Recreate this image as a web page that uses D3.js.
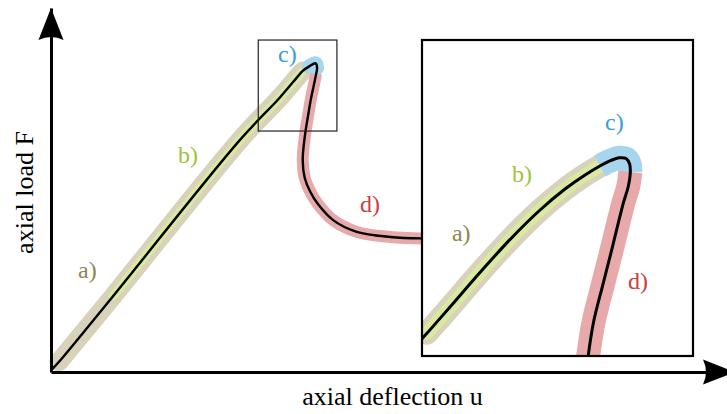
<!DOCTYPE html>
<html><head><meta charset="utf-8">
<script src="https://cdn.jsdelivr.net/npm/d3@7"></script>
<style>html,body{margin:0;padding:0;background:#fff;} svg{display:block;}</style>
</head><body>
<svg id="chart" width="727" height="414"></svg>
<script>
// Load–deflection path (u: axial deflection, F: axial load), full view
const mainU = [0.015, 0.117, 0.91, 2.76, 3.35, 3.60, 3.68, 3.77, 3.87, 3.89, 3.87, 3.84, 3.80, 3.76, 3.71, 3.68, 3.71, 3.79, 3.90, 4.12, 4.47, 4.96, 5.42];
const mainF = [0.07, 0.28, 2.09, 6.37, 7.55, 8.10, 8.27, 8.39, 8.48, 8.35, 8.13, 7.86, 7.50, 7.06, 6.46, 5.82, 5.33, 4.95, 4.62, 4.18, 3.85, 3.71, 3.67];

// Detailed path around the limit point, shown in the magnified panel
const zoomU = [3.013, 3.051, 3.149, 3.276, 3.412, 3.531, 3.637, 3.722, 3.785, 3.832, 3.866, 3.896, 3.911, 3.914, 3.905, 3.884, 3.835, 3.799, 3.757, 3.732];
const zoomF = [6.723, 6.800, 7.008, 7.281, 7.558, 7.775, 7.941, 8.052, 8.123, 8.167, 8.188, 8.182, 8.139, 8.076, 7.959, 7.828, 7.459, 7.195, 6.879, 6.573];

// Window of the (u, F) plane that the panel magnifies
const zoomWindowU = [3.03, 4.18];
const zoomWindowF = [6.62, 9.12];

// Phases of the response and the point ranges they cover on each path
const phases = ["a", "b", "c", "d"];
const phaseLabels = ["a)", "b)", "c)", "d)"];
const mainPhaseSpan = { a: [1, 6], b: [2, 6], c: [7, 9], d: [10, 22] };
const zoomPhaseSpan = { a: [1, 8], b: [1, 8], c: [8, 13], d: [13, 19] };

// Label anchors in (u, F)
const mainLabelU = [0.395, 1.857, 3.319, 4.518];
const mainLabelF = [2.57, 5.755, 8.53, 4.396];
const zoomLabelU = [3.157, 3.412, 3.807, 3.904];
const zoomLabelF = [7.526, 8.000, 8.408, 7.154];

const axisTitles = { x: "axial deflection u", y: "axial load F" };

// ---- styling ----
const bandColor = { a: "#d8d2bb", b: "#d9e9a2", c: "#a7d5ee", d: "#e7a9a9" };
const labelColor = { a: "#8b8652", b: "#9cc53a", c: "#3a9ed9", d: "#cc3d3d" };
const mainBandWidth = { a: 19, b: 9, c: 14, d: 12 };
const zoomBandWidth = { a: 23, b: 13, c: 24, d: 24 };
const serif = "'Liberation Serif', 'DejaVu Serif', serif";

const svg = d3.select("#chart");

// Main axes
const x = d3.scaleLinear().domain([0, 10]).range([51, 735]);
const y = d3.scaleLinear().domain([0, 10]).range([372, 8]);

// Magnified panel
const panel = { left: 422, right: 693, top: 40, bottom: 356 };
const zx = d3.scaleLinear().domain(zoomWindowU).range([panel.left, panel.right]);
const zy = d3.scaleLinear().domain(zoomWindowF).range([panel.bottom, panel.top]);

const mainPts = mainU.map((u, i) => [u, mainF[i]]);
const zoomPts = zoomU.map((u, i) => [u, zoomF[i]]);

function lineFor(sx, sy) {
  return d3.line().x(d => sx(d[0])).y(d => sy(d[1])).curve(d3.curveCatmullRom.alpha(0.5));
}
const mainLine = lineFor(x, y);
const zoomLine = lineFor(zx, zy);

// ---- main view ----
const gMain = svg.append("g");
["a", "b", "d", "c"].forEach(p => {
  const [s, e] = mainPhaseSpan[p];
  gMain.append("path")
    .attr("d", mainLine(mainPts.slice(s, e + 1)))
    .attr("fill", "none")
    .attr("stroke", bandColor[p])
    .attr("stroke-width", mainBandWidth[p])
    .attr("stroke-linecap", "round")
    .attr("stroke-linejoin", "round");
});
gMain.append("path")
  .attr("d", mainLine(mainPts))
  .attr("fill", "none")
  .attr("stroke", "#000")
  .attr("stroke-width", 2.4)
  .attr("stroke-linejoin", "round");

// Axes without ticks, capped by arrowheads
const xAxis = d3.axisBottom(x).tickValues([]).tickSizeOuter(0);
const yAxis = d3.axisLeft(y).tickValues([]).tickSizeOuter(0);
svg.append("g").attr("transform", `translate(0,${y(0)})`).call(xAxis)
  .select(".domain").attr("stroke", "#000").attr("stroke-width", 3);
svg.append("g").attr("transform", `translate(${x(0)},0)`).call(yAxis)
  .select(".domain").attr("stroke", "#000").attr("stroke-width", 3);

const arrowShape = "M0,0 L-32,-12.5 Q-26,0 -32,12.5 Z";
svg.append("path").attr("d", arrowShape).attr("fill", "#000")
  .attr("transform", `translate(${x(10)},${y(0)})`);
svg.append("path").attr("d", arrowShape).attr("fill", "#000")
  .attr("transform", `translate(${x(0)},${y(10)}) rotate(-90)`);

// Axis titles
svg.append("text")
  .attr("x", (x(0) + x(10)) / 2 - 0.5)
  .attr("y", 405)
  .attr("text-anchor", "middle")
  .attr("font-family", serif)
  .attr("font-size", 26)
  .text(axisTitles.x);
svg.append("text")
  .attr("transform", `translate(33,${192.5}) rotate(-90)`)
  .attr("text-anchor", "middle")
  .attr("font-family", serif)
  .attr("font-size", 26)
  .text(axisTitles.y);

// Phase labels, main view
phases.forEach((p, i) => {
  svg.append("text")
    .attr("x", x(mainLabelU[i]))
    .attr("y", y(mainLabelF[i]))
    .attr("font-family", serif)
    .attr("font-size", 24)
    .attr("fill", labelColor[p])
    .text(phaseLabels[i]);
});

// Frame of the magnified window
svg.append("rect")
  .attr("x", x(zoomWindowU[0]))
  .attr("y", y(zoomWindowF[1]))
  .attr("width", x(zoomWindowU[1]) - x(zoomWindowU[0]))
  .attr("height", y(zoomWindowF[0]) - y(zoomWindowF[1]))
  .attr("fill", "none")
  .attr("stroke", "#222")
  .attr("stroke-width", 1.2);

// ---- magnified panel ----
svg.append("defs").append("clipPath").attr("id", "panelClip")
  .append("rect")
  .attr("x", panel.left).attr("y", panel.top)
  .attr("width", panel.right - panel.left).attr("height", panel.bottom - panel.top);

svg.append("rect")
  .attr("x", panel.left).attr("y", panel.top)
  .attr("width", panel.right - panel.left).attr("height", panel.bottom - panel.top)
  .attr("fill", "#fff");

const gZoom = svg.append("g").attr("clip-path", "url(#panelClip)");
["a", "b", "c", "d"].forEach(p => {
  const [s, e] = zoomPhaseSpan[p];
  gZoom.append("path")
    .attr("d", zoomLine(zoomPts.slice(s, e + 1)))
    .attr("fill", "none")
    .attr("stroke", bandColor[p])
    .attr("stroke-width", zoomBandWidth[p])
    .attr("stroke-linecap", (p === "a" || p === "b") ? "round" : "butt")
    .attr("stroke-linejoin", "round");
});
gZoom.append("path")
  .attr("d", zoomLine(zoomPts))
  .attr("fill", "none")
  .attr("stroke", "#000")
  .attr("stroke-width", 3)
  .attr("stroke-linejoin", "round");

phases.forEach((p, i) => {
  svg.append("text")
    .attr("x", zx(zoomLabelU[i]))
    .attr("y", zy(zoomLabelF[i]))
    .attr("font-family", serif)
    .attr("font-size", 24)
    .attr("fill", labelColor[p])
    .text(phaseLabels[i]);
});

svg.append("rect")
  .attr("x", panel.left).attr("y", panel.top)
  .attr("width", panel.right - panel.left).attr("height", panel.bottom - panel.top)
  .attr("fill", "none")
  .attr("stroke", "#000")
  .attr("stroke-width", 2.2);
</script>
</body></html>
